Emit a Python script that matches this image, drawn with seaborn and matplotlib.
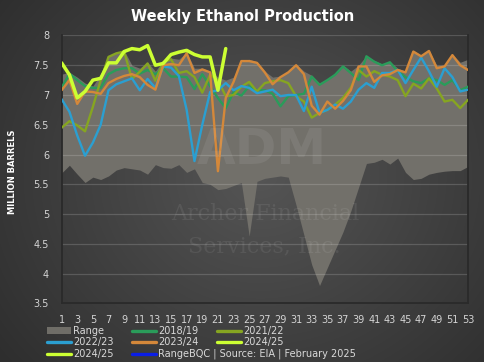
import numpy as np
import pandas as pd
import matplotlib
matplotlib.use("Agg")
import matplotlib.pyplot as plt
import seaborn as sns
from matplotlib.patches import Patch
from matplotlib.lines import Line2D

# ---------------- data ----------------
weeks = list(range(1, 54))
range_low = [5.69, 5.82, 5.67, 5.53, 5.62, 5.58, 5.64, 5.74, 5.78, 5.76,
             5.74, 5.67, 5.83, 5.78, 5.77, 5.83, 5.70, 5.76, 5.53, 5.50,
             5.41, 5.43, 5.48, 5.53, 4.63, 5.55, 5.60, 5.62, 5.64, 5.62,
             5.15, 4.65, 4.15, 3.80, 4.10, 4.40, 4.70, 5.05, 5.45, 5.85,
             5.87, 5.92, 5.84, 5.94, 5.70, 5.58, 5.60, 5.67, 5.70, 5.72,
             5.73, 5.73, 5.80]
range_high = [7.35, 7.38, 7.30, 7.20, 7.15, 7.35, 7.66, 7.72, 7.75, 7.50,
              7.45, 7.55, 7.40, 7.58, 7.62, 7.60, 7.72, 7.45, 7.45, 7.40,
              7.30, 7.25, 7.30, 7.58, 7.60, 7.56, 7.40, 7.30, 7.32, 7.40,
              7.52, 7.40, 7.33, 7.20, 7.27, 7.36, 7.50, 7.40, 7.50, 7.66,
              7.58, 7.52, 7.56, 7.45, 7.40, 7.75, 7.67, 7.76, 7.50, 7.50,
              7.68, 7.55, 7.60]
s2018_19 = [7.12, 7.36, 7.25, 7.15, 7.12, 7.12, 7.35, 7.42, 7.45, 7.45,
            7.36, 7.42, 7.35, 7.45, 7.31, 7.31, 7.30, 7.10, 7.35, 7.15,
            6.95, 6.78, 7.05, 6.99, 7.15, 7.08, 7.08, 7.02, 6.81, 6.98,
            7.00, 7.02, 7.31, 7.17, 7.25, 7.34, 7.48, 7.37, 7.25, 7.65,
            7.56, 7.50, 7.55, 7.40, 7.30, 7.23, 7.20, 7.28, 7.25, 7.17,
            7.25, 7.08, 7.14]
s2021_22 = [6.45, 6.56, 6.49, 6.39, 6.80, 7.25, 7.64, 7.70, 7.73, 7.27,
            7.39, 7.53, 7.24, 7.55, 7.60, 7.37, 7.40, 7.30, 7.04, 7.34,
            7.25, 6.98, 7.00, 7.14, 7.22, 7.06, 7.20, 7.23, 7.25, 7.20,
            6.98, 6.89, 6.62, 6.70, 6.75, 6.84, 6.95, 7.12, 7.42, 7.31,
            7.40, 7.34, 7.31, 7.25, 6.98, 7.19, 7.11, 7.28, 7.11, 6.89,
            6.92, 6.78, 6.92]
s2022_23 = [6.93, 6.72, 6.32, 5.98, 6.20, 6.50, 7.08, 7.18, 7.23, 7.28,
            7.08, 7.27, 7.12, 7.48, 7.46, 7.32, 6.75, 5.89, 6.50, 7.05,
            7.08, 7.20, 7.08, 7.15, 7.12, 7.03, 7.06, 7.09, 6.98, 7.00,
            7.00, 6.73, 7.14, 6.70, 6.75, 6.84, 6.77, 6.89, 7.09, 7.20,
            7.12, 7.37, 7.37, 7.42, 7.20, 7.42, 7.63, 7.40, 7.14, 7.45,
            7.30, 7.06, 7.09]
s2023_24 = [7.08, 7.25, 6.85, 7.06, 7.05, 7.02, 7.20, 7.27, 7.32, 7.35,
            7.30, 7.17, 7.09, 7.50, 7.52, 7.50, 7.70, 7.37, 7.43, 7.38,
            5.72, 6.95, 7.22, 7.57, 7.57, 7.54, 7.38, 7.18, 7.30, 7.38,
            7.50, 7.35, 6.82, 6.67, 6.89, 6.77, 6.90, 7.08, 7.48, 7.48,
            7.22, 7.33, 7.35, 7.42, 7.38, 7.73, 7.65, 7.74, 7.45, 7.48,
            7.67, 7.50, 7.42]
s2024_25 = [7.54, 7.34, 6.95, 7.06, 7.25, 7.28, 7.54, 7.54, 7.73, 7.78,
            7.76, 7.83, 7.50, 7.53, 7.68, 7.72, 7.75, 7.68, 7.64, 7.64,
            7.08, 7.78]
season_names = ["2018/19", "2021/22", "2022/23", "2023/24", "2024/25"]
x_ticks = list(range(1, 54, 2))
y_ticks = [3.5, 4, 4.5, 5, 5.5, 6, 6.5, 7, 7.5, 8]
y_tick_labels = ["3.5", "4", "4.5", "5", "5.5", "6", "6.5", "7", "7.5", "8"]

series = dict(zip(season_names, [s2018_19, s2021_22, s2022_23, s2023_24, s2024_25]))
df = pd.concat([pd.DataFrame({"week": weeks[:len(v)], "value": v, "season": k})
                for k, v in series.items()], ignore_index=True)

colors = {"2018/19": "#2a9c5a", "2021/22": "#86a521", "2022/23": "#2b9fd1",
          "2023/24": "#d4883a", "2024/25": "#ccff33"}

# ---------------- figure ----------------
sns.set_theme(style="dark")
plt.rcParams["font.family"] = ["DejaVu Sans"]

fig = plt.figure(figsize=(4.85, 3.62), dpi=100, facecolor="#3a3a3a")

# vignette background
bg = fig.add_axes([0, 0, 1, 1], zorder=-10)
yy, xx = np.mgrid[0:362, 0:485]
r = np.sqrt(((xx - 260) / 330.0) ** 2 + ((yy - 175) / 300.0) ** 2)
r = np.clip(r, 0, 1)
c0 = np.array([0x55, 0x55, 0x55]) / 255.0
c1 = np.array([0x2e, 0x2e, 0x2e]) / 255.0
bg.imshow(c0 + (c1 - c0) * r[..., None], aspect="auto", extent=[0, 1, 0, 1])
bg.axis("off")

ax = fig.add_axes([0.127, 0.162, 0.838, 0.740])
ax.set_facecolor("none")

ax.fill_between(weeks, range_low, range_high, color="#72706a", lw=0, zorder=1)

hist = df[df.season != "2024/25"]
sns.lineplot(data=hist, x="week", y="value", hue="season",
             palette={k: colors[k] for k in season_names[:4]},
             linewidth=1.7, legend=False, ax=ax, zorder=3)
cur = df[df.season == "2024/25"]
sns.lineplot(data=cur, x="week", y="value", color=colors["2024/25"],
             linewidth=2.5, legend=False, ax=ax, zorder=4)

ax.set_xlim(1, 53)
ax.set_ylim(3.5, 8)
ax.set_xticks(x_ticks)
ax.set_xticklabels([str(t) for t in x_ticks])
ax.set_yticks(y_ticks)
ax.set_yticklabels(y_tick_labels)
ax.set_xlabel("")
ax.set_ylabel("")
ax.set_axisbelow("line")
ax.yaxis.grid(True, color="white", alpha=0.16, lw=0.9)
ax.xaxis.grid(False)
ax.tick_params(axis="both", colors="#d4d4d4", labelsize=7, length=0)
ax.tick_params(axis="x", pad=8.5)
ax.tick_params(axis="y", pad=9)
ax.spines["top"].set_visible(False)
for s in ["left", "bottom", "right"]:
    ax.spines[s].set_visible(True)
    ax.spines[s].set_color("#2a2a2a")
    ax.spines[s].set_linewidth(1.3)

# watermark
wm = dict(color="white", alpha=0.075, ha="center", va="center", zorder=2)
fig.text(0.54, 0.585, "ADM", fontsize=36, weight="bold", **wm)
fig.text(0.546, 0.409, "Archer Financial", fontsize=16, family="DejaVu Serif", **wm)
fig.text(0.546, 0.320, "Services, Inc.", fontsize=16, family="DejaVu Serif", **wm)

# title and y label
fig.text(0.5, 1 - 17 / 362, "Weekly Ethanol Production", fontsize=10.5,
         weight="bold", color="white", ha="center", va="center")
fig.text(13 / 485, 1 - 172 / 362, "MILLION BARRELS", fontsize=6, weight="bold",
         color="white", rotation=90, ha="center", va="center")

# legend
h_range = Patch(facecolor="#6f6d67", edgecolor="none", label="Range")
def ln(c, lab):
    return Line2D([], [], color=c, lw=2.4, label=lab)
h18 = ln(colors["2018/19"], "2018/19")
h21 = ln(colors["2021/22"], "2021/22")
h22 = ln(colors["2022/23"], "2022/23")
h23 = ln(colors["2023/24"], "2023/24")
h24 = ln(colors["2024/25"], "2024/25")
h24b = ln(colors["2024/25"], "2024/25")
hblue = ln("#0a1ee6", "Range")
order = [h_range, h22, h24b, h18, h23, hblue, h21, h24]
leg = fig.legend(handles=order, labels=[h.get_label() for h in order], ncol=3,
                 loc="upper left", bbox_to_anchor=(47 / 485, 1 - 326 / 362),
                 frameon=False, fontsize=7, handlelength=2.45, handleheight=0.6,
                 handletextpad=0.25, columnspacing=1.9, labelspacing=0.15,
                 borderpad=0, borderaxespad=0)
for t in leg.get_texts():
    t.set_color("#d9d9d9")

fig.canvas.draw()
tb = leg.get_texts()[5].get_window_extent()
fig.text(tb.x1 / fig.bbox.width, tb.y0 / fig.bbox.height,
         "BQC | Source: EIA | February 2025", fontsize=7, color="#d9d9d9",
         ha="left", va="bottom")

fig.savefig("out.png", dpi=100, facecolor=fig.get_facecolor())
